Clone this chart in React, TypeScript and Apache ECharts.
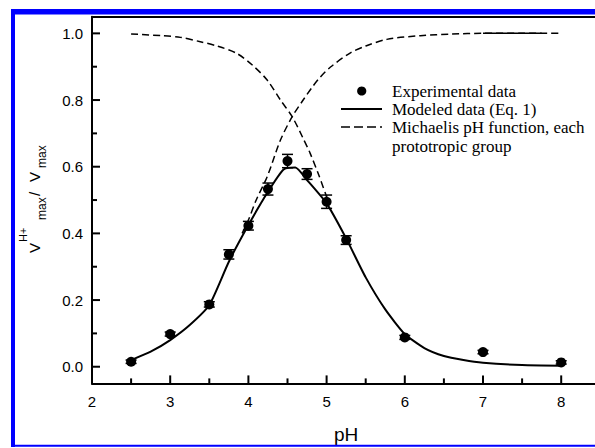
import React, { useEffect, useRef } from "react";
import * as echarts from "echarts";

// Axis ticks
const xMajorTicks = [2, 3, 4, 5, 6, 7, 8];
const xMinorTicks = [2.5, 3.5, 4.5, 5.5, 6.5, 7.5];
const yMajorTicks = [0, 0.2, 0.4, 0.6, 0.8, 1.0];
const yMinorTicks = [0.1, 0.3, 0.5, 0.7, 0.9];

// Experimental data (pH, relative rate, error)
const phExp = [2.5, 3.0, 3.5, 3.75, 4.0, 4.25, 4.5, 4.75, 5.0, 5.25, 6.0, 7.0, 8.0];
const vExp = [0.015, 0.098, 0.187, 0.337, 0.423, 0.533, 0.617, 0.578, 0.495, 0.38, 0.088, 0.044, 0.013];
const vErr = [0.005, 0.006, 0.008, 0.014, 0.013, 0.018, 0.02, 0.016, 0.02, 0.013, 0.006, 0.005, 0.005];

// Modeled data (Eq. 1)
const phModel = [2.5, 2.75, 3.0, 3.25, 3.5, 3.75, 4.0, 4.25, 4.45, 4.6, 4.75, 5.0, 5.25, 5.5, 5.75, 6.0, 6.25, 6.5, 6.75, 7.0, 7.5, 8.0];
const vModel = [0.02, 0.045, 0.08, 0.125, 0.185, 0.315, 0.425, 0.525, 0.592, 0.598, 0.56, 0.49, 0.385, 0.268, 0.172, 0.098, 0.056, 0.032, 0.02, 0.012, 0.005, 0.003];

// Michaelis pH functions, one per prototropic group
const phAcid = [2.5, 2.9, 3.13, 3.385, 3.6, 3.85, 4.05, 4.24, 4.41, 4.56, 4.7, 4.79, 4.9, 5.0];
const vAcid = [0.998, 0.993, 0.988, 0.975, 0.962, 0.94, 0.905, 0.86, 0.8, 0.75, 0.685, 0.64, 0.575, 0.51];
const phBase = [3.92, 4.0, 4.1, 4.24, 4.41, 4.56, 4.7, 4.83, 4.92, 5.05, 5.3, 5.5, 5.77, 6.2, 6.6, 7.0, 7.5, 8.0];
const vBase = [0.4, 0.44, 0.5, 0.57, 0.68, 0.75, 0.8, 0.843, 0.869, 0.899, 0.941, 0.962, 0.982, 0.993, 0.998, 1.0, 1.0, 1.0];
const phPlateau = [7.0, 7.75];
const vPlateau = [1.0, 1.0];

const legendLabels = [
  "Experimental data",
  "Modeled data (Eq. 1)",
  "Michaelis pH function, each",
  "prototropic group",
];

const X_MIN = 2;
const X_MAX = 8.5;
const Y_MIN = -0.05;
const Y_MAX = 1.05;

const zip = (xs: number[], ys: number[]) => xs.map((x, i) => [x, ys[i]]);

const SANS = "'Liberation Sans', Arial, sans-serif";
const SERIF = "'Liberation Serif', 'Times New Roman', serif";

export default function App() {
  const ref = useRef<HTMLDivElement>(null);

  useEffect(() => {
    if (!ref.current) return;
    const chart = echarts.init(ref.current, undefined, { renderer: "svg" });

    const dash = [7, 4];

    // inward tick marks, placed through the axes' own scales
    const xTickData = [
      ...xMajorTicks.map((v) => [v, Y_MIN, 8]),
      ...xMinorTicks.map((v) => [v, Y_MIN, 5]),
    ];
    const yTickData = [
      ...yMajorTicks.map((v) => [X_MIN, v, 8]),
      ...yMinorTicks.map((v) => [X_MIN, v, 5]),
    ];

    const option: any = {
      animation: false,
      backgroundColor: "#fff",
      grid: {
        left: 92,
        top: 16.7,
        width: 508.3,
        height: 366.7,
        show: false,
        outerBoundsMode: "none",
      },
      xAxis: [
        {
          type: "value",
          min: X_MIN,
          max: X_MAX,
          interval: 1,
          position: "bottom",
          axisLine: { show: true, onZero: false, lineStyle: { color: "#000", width: 2 } },
          axisTick: { show: false },
          axisLabel: {
            fontSize: 15,
            color: "#000",
            fontFamily: SANS,
            margin: 11,
            showMaxLabel: false,
            formatter: (v: number) => (xMajorTicks.includes(v) ? String(v) : ""),
          },
          splitLine: { show: false },
          name: "pH",
          nameLocation: "middle",
          nameGap: 42,
          nameTextStyle: { fontSize: 19, color: "#000", fontFamily: SANS },
        },
        {
          type: "value",
          min: X_MIN,
          max: X_MAX,
          position: "top",
          axisLine: { show: true, onZero: false, lineStyle: { color: "#000", width: 2 } },
          axisTick: { show: false },
          axisLabel: { show: false },
          splitLine: { show: false },
        },
      ],
      yAxis: [
        {
          type: "value",
          min: Y_MIN,
          max: Y_MAX,
          position: "left",
          axisLine: { show: true, onZero: false, lineStyle: { color: "#000", width: 2 } },
          axisTick: { show: false },
          axisLabel: {
            customValues: yMajorTicks,
            fontSize: 15,
            color: "#000",
            fontFamily: SANS,
            margin: 9,
            formatter: (v: number) => v.toFixed(1),
          },
          splitLine: { show: false },
        },
      ],
      series: [
        {
          type: "custom",
          data: xTickData,
          encode: { x: 0, y: 1 },
          clip: false,
          silent: true,
          z: 50,
          renderItem: (_p: any, api: any) => {
            const p = api.coord([api.value(0), api.value(1)]);
            const len = api.value(2);
            return {
              type: "line",
              shape: { x1: p[0], y1: p[1], x2: p[0], y2: p[1] - len },
              style: { stroke: "#000", lineWidth: 2 },
            };
          },
        },
        {
          type: "custom",
          data: yTickData,
          encode: { x: 0, y: 1 },
          clip: false,
          silent: true,
          z: 50,
          renderItem: (_p: any, api: any) => {
            const p = api.coord([api.value(0), api.value(1)]);
            const len = api.value(2);
            return {
              type: "line",
              shape: { x1: p[0], y1: p[1], x2: p[0] + len, y2: p[1] },
              style: { stroke: "#000", lineWidth: 2 },
            };
          },
        },
        {
          type: "line",
          data: zip(phAcid, vAcid),
          showSymbol: false,
          smooth: 0.3,
          lineStyle: { color: "#000", width: 1.5, type: dash },
          z: 2,
        },
        {
          type: "line",
          data: zip(phBase, vBase),
          showSymbol: false,
          smooth: 0.3,
          lineStyle: { color: "#000", width: 1.5, type: dash },
          z: 2,
        },
        {
          type: "line",
          data: zip(phPlateau, vPlateau),
          showSymbol: false,
          lineStyle: { color: "#000", width: 1.5 },
          z: 2,
        },
        {
          type: "line",
          data: zip(phModel, vModel),
          showSymbol: false,
          smooth: 0.2,
          lineStyle: { color: "#000", width: 2 },
          z: 3,
        },
        {
          type: "custom",
          data: phExp.map((x, i) => [x, vExp[i], vErr[i]]),
          encode: { x: 0, y: 1 },
          z: 4,
          renderItem: (_params: any, api: any) => {
            const x = api.value(0);
            const y = api.value(1);
            const e = api.value(2);
            const top = api.coord([x, y + e]);
            const bot = api.coord([x, y - e]);
            const hw = 5.5;
            const st = { stroke: "#000", lineWidth: 1.5 };
            return {
              type: "group",
              children: [
                { type: "line", shape: { x1: top[0], y1: top[1], x2: bot[0], y2: bot[1] }, style: st },
                { type: "line", shape: { x1: top[0] - hw, y1: top[1], x2: top[0] + hw, y2: top[1] }, style: st },
                { type: "line", shape: { x1: bot[0] - hw, y1: bot[1], x2: bot[0] + hw, y2: bot[1] }, style: st },
              ],
            };
          },
        },
        {
          type: "scatter",
          data: zip(phExp, vExp),
          symbol: "circle",
          symbolSize: 10,
          itemStyle: { color: "#000", opacity: 1 },
          z: 5,
        },
      ],
      graphic: [
        // legend
        { type: "circle", shape: { cx: 361.7, cy: 91, r: 4.6 }, style: { fill: "#000" }, z: 10 },
        { type: "line", shape: { x1: 341, y1: 109, x2: 382, y2: 109 }, style: { stroke: "#000", lineWidth: 2 }, z: 10 },
        {
          type: "line",
          shape: { x1: 341, y1: 127, x2: 382, y2: 127 },
          style: { stroke: "#000", lineWidth: 1.5, lineDash: [9, 4] },
          z: 10,
        },
        ...legendLabels.map((t, i) => ({
          type: "text",
          x: 392,
          y: [91, 109, 127, 146][i],
          z: 10,
          style: { text: t, font: `17px ${SERIF}`, fill: "#000", verticalAlign: "middle", align: "left" },
        })),
        // y axis title, reading upward
        {
          type: "group",
          x: 0,
          y: 253,
          rotation: Math.PI / 2,
          z: 10,
          children: [
            { type: "text", x: 0, y: 34, style: { text: "V", font: `15px ${SANS}`, fill: "#000", verticalAlign: "middle" } },
            { type: "text", x: 11, y: 23, style: { text: "H+", font: `11px ${SANS}`, fill: "#000", verticalAlign: "middle" } },
            { type: "text", x: 33, y: 42, style: { text: "max", font: `12px ${SANS}`, fill: "#000", verticalAlign: "middle" } },
            { type: "text", x: 57, y: 34, style: { text: "/", font: `15px ${SANS}`, fill: "#000", verticalAlign: "middle" } },
            { type: "text", x: 71, y: 34, style: { text: "V", font: `15px ${SANS}`, fill: "#000", verticalAlign: "middle" } },
            { type: "text", x: 85, y: 42, style: { text: "max", font: `12px ${SANS}`, fill: "#000", verticalAlign: "middle" } },
          ],
        },
        // blue frame
        { type: "rect", shape: { x: 11, y: 9, width: 584, height: 5.5 }, style: { fill: "#0000ff" }, z: 20 },
        { type: "rect", shape: { x: 11, y: 9, width: 4, height: 438 }, style: { fill: "#0000ff" }, z: 20 },
        { type: "rect", shape: { x: 11, y: 444.7, width: 584, height: 2 }, style: { fill: "#0000ff" }, z: 20 },
      ],
    };

    chart.setOption(option);
    return () => chart.dispose();
  }, []);

  return (
    <div
      ref={ref}
      style={{ position: "fixed", left: 0, top: 0, width: 595, height: 448, background: "#fff" }}
    />
  );
}
